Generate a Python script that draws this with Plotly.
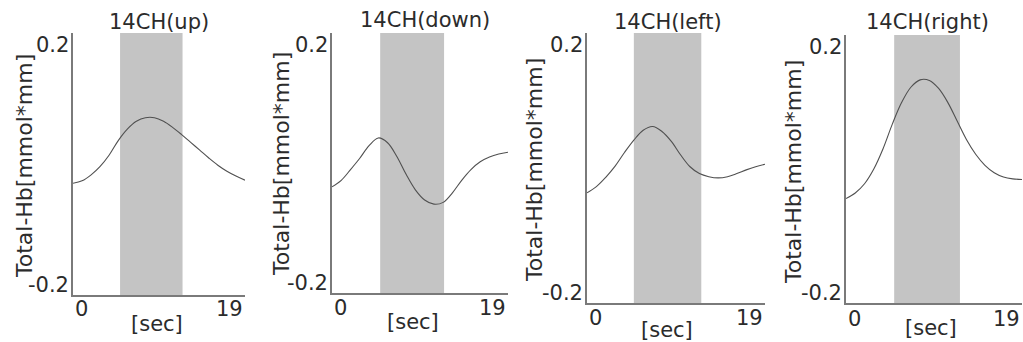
import plotly.graph_objects as go

W, H = 1023, 342

# ---------------- data ----------------
titles = ["14CH(up)", "14CH(down)", "14CH(left)", "14CH(right)"]
y_title = "Total-Hb[mmol*mm]"
x_title = "[sec]"
x_tick_vals = [0, 19]
x_tick_text = ["0", "19"]
y_tick_vals = [-0.2, 0.2]
y_tick_text = ["-0.2", "0.2"]
stim_start = [5.2, 5.2, 5.0, 5.2]
stim_end = [12.1, 12.1, 12.2, 12.3]

t_sec = list(range(20))
v_up = [-0.030, -0.026, -0.016, -0.002, 0.017, 0.041, 0.060, 0.073, 0.079, 0.079,
        0.073, 0.063, 0.051, 0.038, 0.025, 0.012, 0.000, -0.010, -0.018, -0.025]
v_down = [-0.038, -0.027, -0.009, 0.010, 0.031, 0.044, 0.036, 0.013, -0.017, -0.043,
          -0.060, -0.067, -0.064, -0.048, -0.027, -0.009, 0.004, 0.012, 0.017, 0.020]
v_left = [-0.038, -0.028, -0.013, 0.005, 0.027, 0.047, 0.063, 0.069, 0.061, 0.045,
          0.023, 0.004, -0.007, -0.012, -0.014, -0.012, -0.007, -0.001, 0.004, 0.008]
v_right = [-0.046, -0.037, -0.022, 0.002, 0.035, 0.075, 0.110, 0.135, 0.147, 0.146,
           0.133, 0.110, 0.080, 0.050, 0.026, 0.008, -0.004, -0.011, -0.014, -0.015]

values = [v_up, v_down, v_left, v_right]

# ---------------- layout geometry (pixels) ----------------
x_left_px = [73, 332, 587, 846]
x_right_px = [245, 508, 765, 1022]
y_top_px = [33, 33, 33, 35]
y_bot_px = [295, 293, 303, 303]
title_pos = [(159, 22), (425, 20), (668, 22), (927, 22)]
xlab_pos = [(157, 324), (413, 322), (667, 330), (931, 328)]
ytitle_pos = [(24, 166), (281, 164), (535, 170), (793, 172)]
xtick_y = [309, 308, 318, 319]

FONT = "DejaVu Sans"
TXT = "#2b2b2b"
AX = "#7a7a7a"
BAND = "rgb(196,196,196)"
LINE = "#505050"

def px(x):
    return x / W

def py(y):
    return 1 - y / H

fig = go.Figure()
layout = dict(
    width=W, height=H,
    margin=dict(l=0, r=0, t=0, b=0),
    paper_bgcolor="white", plot_bgcolor="white",
    showlegend=False,
    font=dict(family=FONT, color=TXT, size=21),
)
shapes, annotations = [], []

for i in range(4):
    n = "" if i == 0 else str(i + 1)
    xa, ya = "x" + n, "y" + n
    fig.add_trace(go.Scatter(
        x=t_sec, y=values[i], mode="lines",
        line=dict(color=LINE, width=1.1, shape="spline", smoothing=1.0),
        xaxis=xa, yaxis=ya, hoverinfo="skip",
    ))
    layout["xaxis" + n] = dict(
        domain=[px(x_left_px[i]), px(x_right_px[i])],
        range=[0, 19], anchor=ya,
        showgrid=False, zeroline=False, showticklabels=False, ticks="",
        showline=True, linecolor=AX, linewidth=2,
        fixedrange=True,
    )
    layout["yaxis" + n] = dict(
        domain=[py(y_bot_px[i]), py(y_top_px[i])],
        range=[-0.216, 0.22], anchor=xa,
        showgrid=False, zeroline=False, ticks="", showticklabels=False,
        showline=True, linecolor=AX, linewidth=2,
        fixedrange=True,
    )
    shapes.append(dict(
        type="rect", xref=xa, yref=ya + " domain",
        x0=stim_start[i], x1=stim_end[i], y0=0, y1=1,
        fillcolor=BAND, line=dict(width=0), layer="below",
    ))
    annotations.append(dict(
        text=titles[i], xref="paper", yref="paper",
        x=px(title_pos[i][0]), y=py(title_pos[i][1]),
        xanchor="center", yanchor="middle", showarrow=False,
        font=dict(family=FONT, size=21, color=TXT),
    ))
    annotations.append(dict(
        text=x_title, xref="paper", yref="paper",
        x=px(xlab_pos[i][0]), y=py(xlab_pos[i][1]),
        xanchor="center", yanchor="middle", showarrow=False,
        font=dict(family=FONT, size=21, color=TXT),
    ))
    annotations.append(dict(
        text=y_title, xref="paper", yref="paper", textangle=-90,
        x=px(ytitle_pos[i][0]), y=py(ytitle_pos[i][1]),
        xanchor="center", yanchor="middle", showarrow=False,
        font=dict(family=FONT, size=22, color=TXT),
    ))
    for tv, tt in zip(y_tick_vals, y_tick_text):
        annotations.append(dict(
            text=tt, xref="paper", yref=ya,
            x=px(x_left_px[i] - 2), y=tv,
            xanchor="right", yanchor="middle", showarrow=False,
            font=dict(family=FONT, size=21, color=TXT),
        ))
    for tv, tt in zip(x_tick_vals, x_tick_text):
        annotations.append(dict(
            text=tt, xref=xa, yref="paper",
            x=tv, y=py(xtick_y[i]),
            xanchor="left" if tv == x_tick_vals[0] else "right",
            yanchor="middle", showarrow=False,
            font=dict(family=FONT, size=21, color=TXT),
        ))

layout["shapes"] = shapes
layout["annotations"] = annotations
fig.update_layout(**layout)
fig.write_html("out.html", config={"displayModeBar": False},
               post_script="document.body.style.margin='0';")
